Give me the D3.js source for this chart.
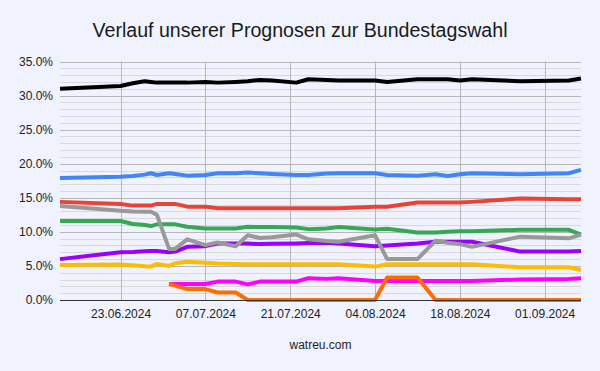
<!DOCTYPE html>
<html lang="de">
  <head>
    <meta charset="utf-8">
    <title>Verlauf unserer Prognosen</title>
    <style>
      body { margin: 0; background: #f0f3fe; }
      svg { display: block; font-family: "Liberation Sans", Arial, sans-serif; }
    </style>
  </head>
  <body>
    <svg width="600" height="371"></svg>
    <script src="https://cdn.jsdelivr.net/npm/d3@7"></script>
    <script>
      // poll dates (dd.mm.yyyy)
      const dates = ['13.06.2024','23.06.2024','25.06.2024','27.06.2024','28.06.2024','29.06.2024',
        '01.07.2024','02.07.2024','04.07.2024','07.07.2024','09.07.2024','12.07.2024','14.07.2024',
        '16.07.2024','18.07.2024','22.07.2024','24.07.2024','27.07.2024','29.07.2024','04.08.2024',
        '06.08.2024','11.08.2024','14.08.2024','16.08.2024','18.08.2024','20.08.2024','28.08.2024',
        '05.09.2024','07.09.2024'];

      const black = [31.0,31.4,31.8,32.1,32.0,31.9,31.9,31.9,31.9,32.0,31.9,32.0,32.1,32.3,32.2,31.9,32.4,32.3,32.2,32.2,32.0,32.4,32.4,32.4,32.2,32.4,32.1,32.2,32.5];
      const blue = [17.9,18.1,18.2,18.4,18.6,18.35,18.6,18.5,18.25,18.35,18.6,18.6,18.7,18.6,18.5,18.35,18.35,18.55,18.6,18.6,18.35,18.25,18.45,18.2,18.45,18.6,18.45,18.6,19.1];
      const red = [14.4,14.1,13.85,13.85,13.85,14.1,14.1,14.1,13.7,13.7,13.45,13.45,13.45,13.45,13.45,13.45,13.45,13.45,13.45,13.7,13.7,14.3,14.3,14.3,14.3,14.4,14.9,14.8,14.8];
      const green = [11.6,11.6,11.15,11.0,10.85,11.1,11.1,11.1,10.75,10.5,10.5,10.5,10.75,10.7,10.7,10.65,10.4,10.5,10.7,10.35,10.45,9.9,9.9,10.0,10.1,10.1,10.3,10.3,9.6];
      const purple = [6.0,7.0,7.05,7.15,7.2,7.2,7.0,7.1,7.8,7.9,8.3,8.3,8.3,8.2,8.25,8.3,8.35,8.4,8.3,7.9,8.0,8.3,8.55,8.55,8.55,8.55,7.1,7.1,7.2];
      const grey = [13.8,13.1,13.0,12.95,12.95,12.5,7.5,7.5,8.9,8.05,8.45,7.9,9.5,9.1,9.2,9.6,8.9,8.65,8.55,9.5,6.0,6.0,8.7,8.4,8.2,7.8,9.3,9.05,9.6];
      const yellow = [5.15,5.2,5.1,4.95,4.9,5.3,5.0,5.4,5.6,5.45,5.35,5.3,5.25,5.25,5.25,5.25,5.25,5.25,5.25,4.9,5.25,5.25,5.25,5.25,5.25,5.25,4.8,4.8,4.4];
      const magenta = [null,null,null,null,null,null,2.35,2.35,2.35,2.35,2.7,2.7,2.3,2.7,2.7,2.7,3.2,3.1,3.2,2.8,2.8,2.8,2.8,2.8,2.8,2.8,3.0,3.1,3.2];
      const orange = [null,null,null,null,null,null,2.35,2.1,1.6,1.6,1.1,1.1,0,0,0,0,0,0,0,0,3.3,3.3,0,0,0,0,0,0,0];

      const x_ticks = ['23.06.2024','07.07.2024','21.07.2024','04.08.2024','18.08.2024','01.09.2024'];
      const y_ticks = [0,5,10,15,20,25,30,35];

      const series = [
        {color: '#000000', values: black},
        {color: '#4285f4', values: blue},
        {color: '#ea4335', values: red},
        {color: '#34a853', values: green},
        {color: '#9900ff', values: purple},
        {color: '#999999', values: grey},
        {color: '#fbbc04', values: yellow},
        {color: '#ff00ff', values: magenta},
        {color: '#ff6d01', values: orange}
      ];

      const parse = d3.timeParse('%d.%m.%Y');
      const fmt = d3.timeFormat('%d.%m.%Y');
      const svg = d3.select('svg');
      const margin = {top: 61.5, right: 19, bottom: 71, left: 60};
      const width = 600, height = 371;

      const x_scale = d3.scaleTime()
        .domain([parse('13.06.2024'), parse('07.09.2024')])
        .range([margin.left, width - margin.right]);
      const y_scale = d3.scaleLinear()
        .domain([0, 35])
        .range([height - margin.bottom, margin.top]);

      // title
      svg.append('text')
        .attr('x', 300).attr('y', 37)
        .attr('text-anchor', 'middle')
        .attr('font-size', '19.6px')
        .attr('fill', '#1a1a1a')
        .text('Verlauf unserer Prognosen zur Bundestagswahl');

      // grid: minor every 1%, major every 5%
      const grid = svg.append('g');
      grid.selectAll('line.minor')
        .data(d3.range(0, 36).filter(v => v % 5 !== 0)).enter()
        .append('line')
        .attr('x1', margin.left).attr('x2', width - margin.right)
        .attr('y1', d => Math.round(y_scale(d)) + 0.5)
        .attr('y2', d => Math.round(y_scale(d)) + 0.5)
        .attr('stroke', '#d9d9dc');
      grid.selectAll('line.major')
        .data(y_ticks).enter()
        .append('line')
        .attr('x1', margin.left).attr('x2', width - margin.right)
        .attr('y1', d => Math.round(y_scale(d)) + 0.5)
        .attr('y2', d => Math.round(y_scale(d)) + 0.5)
        .attr('stroke', '#b7b7b7');
      grid.selectAll('line.vert')
        .data(x_ticks).enter()
        .append('line')
        .attr('x1', d => Math.round(x_scale(parse(d))) + 0.5)
        .attr('x2', d => Math.round(x_scale(parse(d))) + 0.5)
        .attr('y1', margin.top).attr('y2', height - margin.bottom)
        .attr('stroke', '#b7b7b7');

      // lines
      const parsed_dates = dates.map(parse);
      const line_gen = d3.line()
        .defined(d => d.v !== null)
        .x(d => x_scale(d.t))
        .y(d => y_scale(d.v));

      svg.append('g').selectAll('path')
        .data(series).enter()
        .append('path')
        .attr('d', s => line_gen(s.values.map((v, i) => ({t: parsed_dates[i], v: v}))))
        .attr('fill', 'none')
        .attr('stroke', s => s.color)
        .attr('stroke-width', 4)
        .attr('stroke-linejoin', 'round');

      // y axis labels
      const y_axis = d3.axisLeft(y_scale)
        .tickValues(y_ticks)
        .tickFormat(d => d.toFixed(1) + '%')
        .tickSize(0)
        .tickPadding(7);
      const y_g = svg.append('g')
        .attr('transform', `translate(${margin.left},0)`)
        .call(y_axis);
      y_g.select('.domain').remove();
      y_g.selectAll('text').attr('font-size', '12px').attr('fill', '#222').attr('font-family', null);

      // x axis
      const x_axis = d3.axisBottom(x_scale)
        .tickValues(x_ticks.map(parse))
        .tickFormat(fmt)
        .tickSize(0)
        .tickPadding(9);
      const x_g = svg.append('g')
        .attr('transform', `translate(0,${height - margin.bottom})`)
        .call(x_axis);
      x_g.select('.domain').attr('stroke', '#333').attr('d', `M${margin.left},0.5H${width - margin.right}`);
      x_g.selectAll('text').attr('font-size', '12px').attr('fill', '#222').attr('font-family', null);

      // x axis title
      svg.append('text')
        .attr('x', (margin.left + width - margin.right) / 2)
        .attr('y', 349)
        .attr('text-anchor', 'middle')
        .attr('font-size', '12px')
        .attr('fill', '#222')
        .text('watreu.com');
    </script>
  </body>
</html>
